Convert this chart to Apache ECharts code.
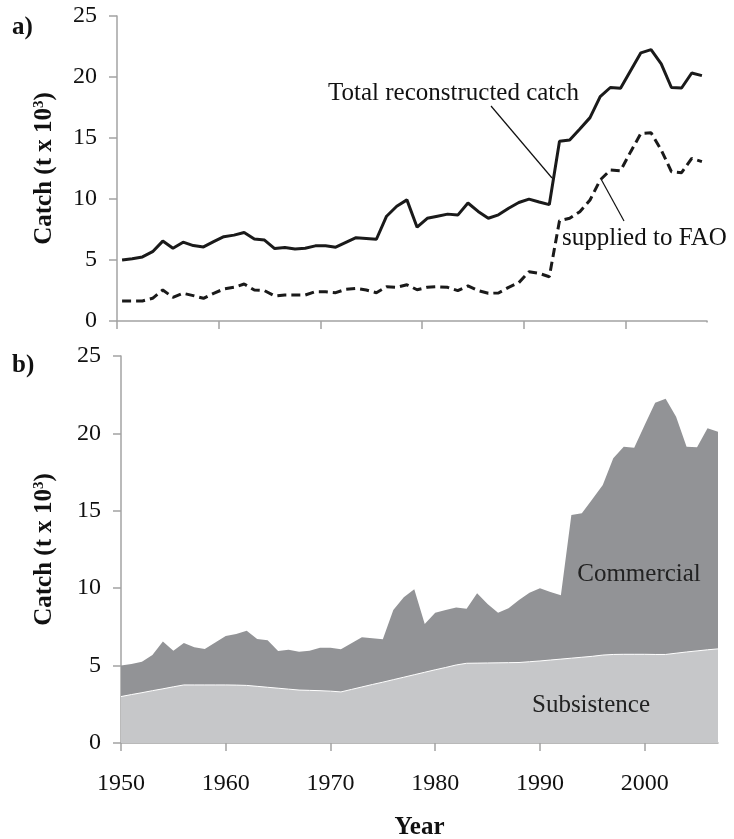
<!DOCTYPE html>
<html>
<head>
<meta charset="utf-8">
<script src="https://cdn.jsdelivr.net/npm/echarts@6/dist/echarts.min.js"></script>
<style>
  html, body { margin: 0; padding: 0; background: #fff; }
  #chart { width: 734px; height: 839px; }
</style>
</head>
<body>
<div id="chart"></div>
<script>
// years 1950 - 2007
var years = [];
for (var y = 1950; y <= 2007; y++) { years.push(String(y)); }

// total reconstructed catch (t x 10^3)
var totalCatch = [
  5.0, 5.1, 5.25, 5.68, 6.55, 5.96, 6.46, 6.18, 6.07, 6.5,
  6.91, 7.04, 7.25, 6.72, 6.63, 5.94, 6.03, 5.9, 5.96, 6.16,
  6.16, 6.05, 6.44, 6.83, 6.77, 6.7, 8.59, 9.41, 9.93, 7.69,
  8.42, 8.59, 8.76, 8.68, 9.67, 8.98, 8.42, 8.7, 9.24, 9.71,
  9.99, 9.75, 9.54, 14.73, 14.84, 15.74, 16.67, 18.39, 19.14, 19.08,
  20.54, 21.98, 22.24, 21.08, 19.14, 19.1, 20.33, 20.11
];

// catch supplied to FAO
var faoCatch = [
  1.64, 1.64, 1.64, 1.86, 2.54, 1.94, 2.27, 2.08, 1.86, 2.27,
  2.62, 2.76, 3.03, 2.54, 2.49, 2.05, 2.13, 2.13, 2.13, 2.4,
  2.4, 2.32, 2.6, 2.68, 2.54, 2.32, 2.81, 2.76, 2.97, 2.56,
  2.76, 2.81, 2.76, 2.49, 2.87, 2.49, 2.27, 2.3, 2.76, 3.14,
  4.04, 3.9, 3.63, 8.22, 8.42, 8.96, 9.92, 11.56, 12.38, 12.32,
  13.88, 15.38, 15.43, 14.02, 12.24, 12.16, 13.33, 13.06
];

// subsistence part of the catch
var subsistence = [
  3.0, 3.13, 3.25, 3.38, 3.5, 3.63, 3.75, 3.75, 3.75, 3.75,
  3.75, 3.74, 3.72, 3.66, 3.6, 3.54, 3.48, 3.42, 3.4, 3.38,
  3.35, 3.3, 3.46, 3.62, 3.78, 3.93, 4.09, 4.25, 4.41, 4.57,
  4.73, 4.88, 5.04, 5.15, 5.16, 5.17, 5.18, 5.19, 5.2, 5.25,
  5.3, 5.36, 5.42, 5.48, 5.54, 5.6, 5.68, 5.72, 5.73, 5.73,
  5.73, 5.72, 5.72, 5.8, 5.88, 5.95, 6.02, 6.08
];

var serif = '"Liberation Serif", "DejaVu Serif", serif';
var axisGray = '#a3a3a3';

function everyTen(idx) { return idx % 10 === 0; }

function yAxisFor(gridIndex, gap) {
  return {
    type: 'value',
    gridIndex: gridIndex,
    min: 0, max: 25, interval: 5,
    name: 'Catch (t x 10{sup|3})',
    nameLocation: 'middle',
    nameRotate: 90,
    nameGap: gap,
    nameTextStyle: {
      fontFamily: serif, fontWeight: 'bold', fontSize: 25, color: '#111',
      rich: {
        sup: { fontFamily: serif, fontWeight: 'bold', fontSize: 15, color: '#111', verticalAlign: 'top', padding: [0, 0, 10, 0] }
      }
    },
    axisLine: { show: true, lineStyle: { color: axisGray, width: 1.5 } },
    axisTick: { show: true, length: 8, lineStyle: { color: axisGray, width: 1.5 } },
    axisLabel: { fontFamily: serif, fontSize: 24, color: '#111', margin: 20 },
    splitLine: { show: false }
  };
}

var option = {
  animation: false,
  backgroundColor: '#fff',
  grid: [
    { left: 117, right: 27, top: 16, bottom: 518, outerBoundsMode: 'none' },
    { left: 121, right: 16, top: 356, bottom: 96, outerBoundsMode: 'none' }
  ],
  xAxis: [
    {
      type: 'category', gridIndex: 0, data: years, boundaryGap: true,
      axisLine: { lineStyle: { color: axisGray, width: 1.5 } },
      axisTick: { show: true, interval: everyTen, length: 8, lineStyle: { color: axisGray, width: 1.5 } },
      axisLabel: { show: false }
    },
    {
      type: 'category', gridIndex: 1, data: years, boundaryGap: false,
      name: 'Year', nameLocation: 'middle', nameGap: 72,
      nameTextStyle: { fontFamily: serif, fontWeight: 'bold', fontSize: 25, color: '#111' },
      axisLine: { lineStyle: { color: axisGray, width: 1.5 } },
      axisTick: { show: true, interval: everyTen, length: 8, lineStyle: { color: axisGray, width: 1.5 } },
      axisLabel: { interval: everyTen, fontFamily: serif, fontSize: 24, color: '#111', margin: 29 }
    }
  ],
  yAxis: [yAxisFor(0, 60), yAxisFor(1, 64)],
  series: [
    {
      name: 'Total reconstructed catch', type: 'line', xAxisIndex: 0, yAxisIndex: 0,
      data: totalCatch, showSymbol: false,
      lineStyle: { color: '#1a1a1a', width: 3 }
    },
    {
      name: 'Supplied to FAO', type: 'line', xAxisIndex: 0, yAxisIndex: 0,
      data: faoCatch, showSymbol: false,
      lineStyle: { color: '#1a1a1a', width: 3, type: [9, 5] }
    },
    {
      name: 'Total', type: 'line', xAxisIndex: 1, yAxisIndex: 1,
      data: totalCatch, showSymbol: false,
      lineStyle: { width: 0 },
      areaStyle: { color: '#929396', opacity: 1 }
    },
    {
      name: 'Subsistence', type: 'line', xAxisIndex: 1, yAxisIndex: 1,
      data: subsistence, showSymbol: false,
      lineStyle: { color: '#ffffff', width: 1 },
      areaStyle: { color: '#c6c7c9', opacity: 1 }
    }
  ],
  graphic: [
    // hide the closing band tick at the right end of panel a
    { type: 'rect', shape: { x: 703, y: 322.5, width: 8, height: 10 }, style: { fill: '#fff' }, z: 100 },
    { type: 'text', left: 12, top: 15, style: { text: 'a)', font: 'bold 25px ' + serif, fill: '#111' } },
    { type: 'text', left: 12, top: 353, style: { text: 'b)', font: 'bold 25px ' + serif, fill: '#111' } },
    { type: 'text', x: 328, y: 93, style: { text: 'Total reconstructed catch', font: '25px ' + serif, fill: '#111', verticalAlign: 'middle' } },
    { type: 'line', shape: { x1: 491, y1: 106, x2: 552, y2: 178 }, style: { stroke: '#111', lineWidth: 1.2 } },
    { type: 'text', x: 562, y: 238, style: { text: 'supplied to FAO', font: '25px ' + serif, fill: '#111', verticalAlign: 'middle' } },
    { type: 'line', shape: { x1: 601, y1: 179, x2: 624, y2: 221 }, style: { stroke: '#111', lineWidth: 1.2 } },
    { type: 'text', x: 639, y: 574, z: 10, style: { text: 'Commercial', font: '25px ' + serif, fill: '#222', align: 'center', verticalAlign: 'middle' } },
    { type: 'text', x: 591, y: 705, z: 10, style: { text: 'Subsistence', font: '25px ' + serif, fill: '#222', align: 'center', verticalAlign: 'middle' } }
  ]
};

var myChart = echarts.init(document.getElementById('chart'));
myChart.setOption(option);
</script>
</body>
</html>
